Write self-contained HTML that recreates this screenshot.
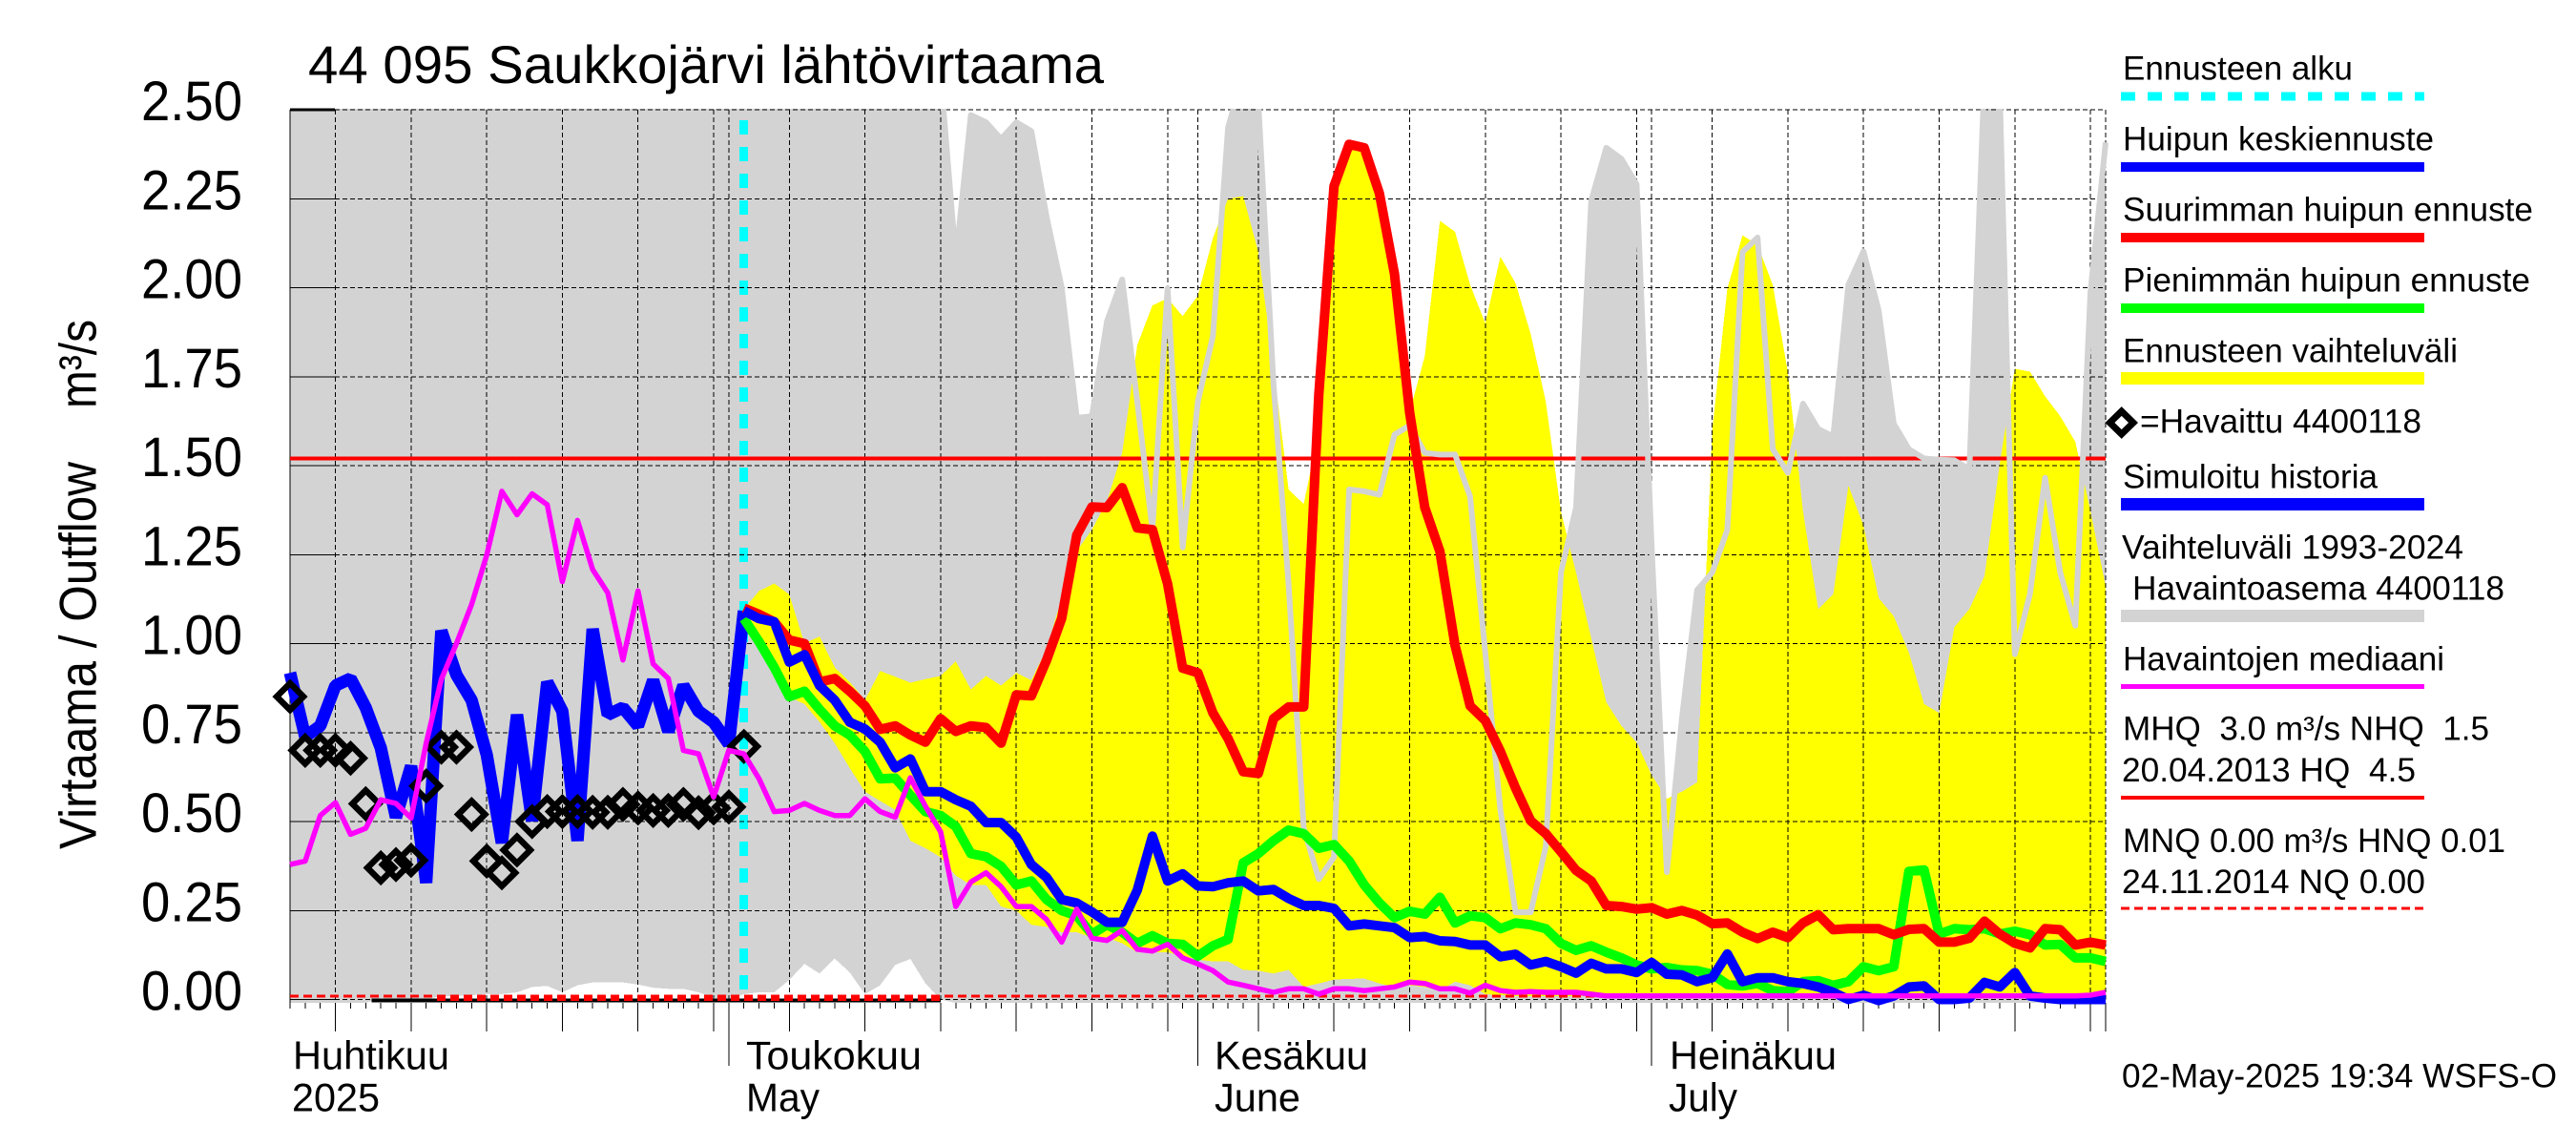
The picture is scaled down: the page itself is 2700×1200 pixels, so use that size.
<!DOCTYPE html>
<html lang="fi">
<head>
<meta charset="utf-8">
<title>44 095 Saukkojärvi lähtövirtaama</title>
<style>
html,body{margin:0;padding:0;background:#fff;}
svg{display:block;}
text{font-family:"Liberation Sans",sans-serif;fill:#000;white-space:pre;}
.lg{font-size:35px;}
.tk{font-size:58px;}
.mo{font-size:42px;}
</style>
</head>
<body>
<svg id="chart" xmlns="http://www.w3.org/2000/svg" width="2700" height="1200" viewBox="0 0 2700 1200">
<defs><clipPath id="plot-clip"><rect x="300" y="114" width="1912" height="940"/></clipPath></defs>
<rect x="0" y="0" width="2700" height="1200" fill="#fff"/>
<text x="323" y="87" font-size="56" textLength="834" lengthAdjust="spacingAndGlyphs">44 095 Saukkojärvi lähtövirtaama</text>
<text transform="translate(100.5,890) rotate(-90)" font-size="55" textLength="406" lengthAdjust="spacingAndGlyphs">Virtaama / Outflow</text>
<text transform="translate(100.5,428) rotate(-90)" font-size="55" textLength="93" lengthAdjust="spacingAndGlyphs">m³/s</text>
<g id="bands" clip-path="url(#plot-clip)"></g>
<g id="axes"></g>
<g id="upperEdge" clip-path="url(#plot-clip)"></g>
<g id="series"></g>
<g id="labels"></g>

<g>
<text class="lg" x="2225" y="83.4" textLength="241" lengthAdjust="spacingAndGlyphs">Ennusteen alku</text>
<line x1="2223" x2="2541" y1="101" y2="101" stroke="#00ffff" stroke-width="9" stroke-dasharray="15 13" shape-rendering="crispEdges"/>
<text class="lg" x="2225" y="157.7" textLength="326" lengthAdjust="spacingAndGlyphs">Huipun keskiennuste</text>
<rect x="2223" y="170" width="318" height="10" fill="#0000ff"/>
<text class="lg" x="2225" y="231.5" textLength="430" lengthAdjust="spacingAndGlyphs">Suurimman huipun ennuste</text>
<rect x="2223" y="244" width="318" height="10" fill="#ff0000"/>
<text class="lg" x="2225" y="305.4" textLength="427" lengthAdjust="spacingAndGlyphs">Pienimmän huipun ennuste</text>
<rect x="2223" y="318" width="318" height="10" fill="#00ff00"/>
<text class="lg" x="2225" y="379.6" textLength="351" lengthAdjust="spacingAndGlyphs">Ennusteen vaihteluväli</text>
<rect x="2223" y="390" width="318" height="13" fill="#ffff00"/>
<polygon points="2223.7,431 2236,443 2223.7,455 2211.4,443" fill="#fff" stroke="#000" stroke-width="7"/>
<text class="lg" x="2243" y="453.5" textLength="295" lengthAdjust="spacingAndGlyphs">=Havaittu 4400118</text>
<text class="lg" x="2225" y="511.7" textLength="267" lengthAdjust="spacingAndGlyphs">Simuloitu historia</text>
<rect x="2223" y="522" width="318" height="13" fill="#0000ff"/>
<text class="lg" x="2224" y="585.5" textLength="358" lengthAdjust="spacingAndGlyphs">Vaihteluväli 1993-2024</text>
<text class="lg" x="2235" y="628.7" textLength="390" lengthAdjust="spacingAndGlyphs">Havaintoasema 4400118</text>
<rect x="2223" y="639" width="318" height="13" fill="#d3d3d3"/>
<text class="lg" x="2225" y="702.6" textLength="337" lengthAdjust="spacingAndGlyphs">Havaintojen mediaani</text>
<rect x="2223" y="717" width="318" height="5" fill="#ff00ff"/>
<text class="lg" x="2225" y="775.3" textLength="384" lengthAdjust="spacingAndGlyphs">MHQ  3.0 m³/s NHQ  1.5</text>
<text class="lg" x="2224" y="819" textLength="308" lengthAdjust="spacingAndGlyphs">20.04.2013 HQ  4.5</text>
<rect x="2223" y="834" width="318" height="4" fill="#ff0000"/>
<text class="lg" x="2225" y="892.8" textLength="401" lengthAdjust="spacingAndGlyphs">MNQ 0.00 m³/s HNQ 0.01</text>
<text class="lg" x="2224" y="936" textLength="318" lengthAdjust="spacingAndGlyphs">24.11.2014 NQ 0.00</text>
<line x1="2223" x2="2541" y1="952" y2="952" stroke="#ff0000" stroke-width="3" stroke-dasharray="9 5" shape-rendering="crispEdges"/>
<text class="lg" x="2224" y="1139.6" textLength="456" lengthAdjust="spacingAndGlyphs">02-May-2025 19:34 WSFS-O</text>
</g>
</svg>

<script>
// Chart values in m³/s, one per day. Day 0 is 2 April 2025.
const yTicks = [0, 0.25, 0.5, 0.75, 1, 1.25, 1.5, 1.75, 2, 2.25, 2.5];
const yTickLabels = ["0.00", "0.25", "0.50", "0.75", "1.00", "1.25", "1.50", "1.75", "2.00", "2.25", "2.50"];
const dayCount = 121;
const gridDays = [3, 8, 13, 18, 23, 28, 29, 33, 38, 43, 48, 53, 58, 60, 64, 69, 74, 79, 84, 89, 90, 94, 99, 104, 109, 114, 119, 120];
const monthDays = [29, 60, 90];
const monthNames = ["Huhtikuu", "Toukokuu", "Kesäkuu", "Heinäkuu"];
const monthNamesEn = ["2025", "May", "June", "July"];
const mhqValue = 1.52;
const nqValue = 0.01;
const forecastStartDay = 30;

const historyUpper = [
2.6,2.6,2.6,2.6,2.6,2.6,2.6,2.6,2.6,2.6,
2.6,2.6,2.6,2.6,2.6,2.6,2.6,2.6,2.6,2.6,
2.6,2.6,2.6,2.6,2.6,2.6,2.6,2.6,2.6,2.6,
2.6,2.6,2.6,2.6,2.6,2.6,2.6,2.6,2.6,2.6,
2.6,2.6,2.6,2.6,2.08,2.485,2.465,2.418,2.465,2.44,
2.2,2.0,1.634,1.639,1.906,2.023,1.68,1.32,1.998,1.27,
1.68,1.864,2.45,2.6,2.52,1.73,1.167,0.481,0.338,0.40,
1.433,1.428,1.418,1.587,1.613,1.536,1.531,1.531,1.413,0.974,
0.533,0.245,0.245,0.43,1.2,1.382,2.244,2.393,2.362,2.29,
1.27,0.358,0.79,1.15,1.2,1.32,2.10,2.141,1.546,1.48,
1.674,1.603,1.582,2.008,2.102,1.936,1.618,1.546,1.52,1.517,
1.515,1.49,2.6,2.55,0.97,1.14,1.466,1.2,1.05,1.987,2.408];

const historyLower = [
-0.01,-0.01,-0.01,-0.01,-0.01,-0.01,0.004,0,0,0,
0.01,0.01,0.012,0.015,0.015,0.02,0.035,0.038,0.02,0.04,
0.048,0.048,0.048,0.042,0.033,0.03,0.03,0.02,0.004,0,
0.015,0.02,0.02,0.055,0.10,0.073,0.115,0.076,0.015,0.04,
0.097,0.114,0.045,0,-0.01,-0.01,-0.01,-0.01,-0.01,-0.01,
-0.01,-0.01,-0.01,-0.01,-0.01,-0.01,-0.01,-0.01,-0.01,-0.01,
-0.01,-0.01,-0.01,-0.01,-0.01,-0.01,-0.01,-0.01,-0.01,-0.01,
-0.01,-0.01,-0.01,-0.01,-0.01,-0.01,-0.01,-0.01,-0.01,-0.01,
-0.01,-0.01,-0.01,-0.01,-0.01,-0.01,-0.01,-0.01,-0.01,-0.01,
-0.01,-0.01,-0.01,-0.01,-0.01,-0.01,-0.01,-0.01,-0.01,-0.01,
-0.01,-0.01,-0.01,-0.01,-0.01,-0.01,-0.01,-0.01,-0.01,-0.01,
-0.01,-0.01,-0.01,-0.01,-0.01,-0.01,-0.01,-0.01,-0.01,-0.01,-0.01];

const rangeTop = [
1.097,1.148,1.169,1.138,1.0,1.02,0.933,0.892,0.841,0.923,
0.907,0.89,0.90,0.909,0.95,0.871,0.909,0.882,0.918,0.897,
0.984,1.128,1.26,1.32,1.40,1.536,1.839,1.95,1.97,1.92,
1.977,2.14,2.25,2.257,2.10,1.78,1.433,1.392,1.6,2.285,
2.403,2.393,2.265,2.039,1.65,1.808,2.188,2.157,2.008,1.90,
2.087,2.013,1.87,1.68,1.37,1.2,1.015,0.835,0.769,0.722,
0.63,0.564,0.584,0.61,1.6,1.998,2.147,2.12,2.008,1.762,
1.372,1.097,1.138,1.444,1.331,1.128,1.077,0.974,0.83,0.805,
1.046,1.097,1.19,1.505,1.772,1.764,1.695,1.639,1.567,1.372,1.16];

const rangeBottom = [
1.09,1.0,0.93,0.85,0.83,0.78,0.72,0.65,0.584,0.558,
0.533,0.446,0.425,0.40,0.348,0.322,0.322,0.261,0.25,0.21,
0.204,0.189,0.189,0.174,0.174,0.158,0.133,0.133,0.133,0.122,
0.112,0.107,0.107,0.083,0.081,0.073,0.083,0.035,0.045,0.056,
0.058,0.059,0.045,0.035,0.04,0.035,0.025,0.05,0.04,0.015,
0.012,0.01,0.01,0.01,0.01,0.01,0.01,0.01,0.01,0.01,
0.01,0.01,0.01,0.01,0.01,0.01,0.01,0.01,0.01,0.01,
0.01,0.01,0.01,0.01,0.01,0.01,0.01,0.01,0.01,0.01,
0.01,0.01,0.01,0.01,0.01,0.01,0.01,0.01,0.01,0.01,0.01];

const simulatedHistory = [
0.918,0.738,0.769,0.882,0.902,0.82,0.707,0.512,0.656,0.328,
1.036,0.912,0.841,0.687,0.44,0.80,0.502,0.892,0.81,0.446,
1.041,0.80,0.82,0.769,0.897,0.753,0.882,0.81,0.779,0.718,1.092];

const observed = [
0.851,0.70,0.70,0.70,0.678,0.55,0.37,0.379,0.391,0.60,
0.709,0.709,0.52,0.389,0.356,0.42,0.50,0.528,0.528,0.528,
0.526,0.526,0.548,0.538,0.531,0.531,0.548,0.525,0.538,0.541,0.711];

const medianFlow = [
0.379,0.389,0.517,0.553,0.464,0.481,0.561,0.551,0.51,0.72,
0.90,1.0,1.11,1.249,1.428,1.362,1.421,1.39,1.174,1.346,
1.208,1.143,0.954,1.148,0.943,0.902,0.70,0.69,0.569,0.70,
0.69,0.62,0.528,0.531,0.551,0.531,0.517,0.517,0.564,0.528,
0.512,0.623,0.543,0.471,0.261,0.33,0.356,0.317,0.261,0.261,
0.225,0.161,0.254,0.172,0.166,0.194,0.141,0.136,0.155,0.117,
0.10,0.081,0.049,0.04,0.03,0.02,0.03,0.03,0.015,0.03,
0.03,0.025,0.03,0.035,0.049,0.045,0.03,0.03,0.018,0.04,
0.025,0.02,0.022,0.02,0.02,0.02,0.015,0.01,0.01,0.01,
0.01,0.01,0.01,0.01,0.01,0.01,0.01,0.01,0.01,0.01,
0.01,0.01,0.01,0.01,0.01,0.01,0.01,0.01,0.01,0.01,
0.01,0.01,0.01,0.01,0.01,0.01,0.01,0.01,0.01,0.012,0.02];

const maxPeakForecast = [
1.10,1.082,1.061,1.01,1.0,0.892,0.902,0.866,0.825,0.759,
0.769,0.743,0.723,0.789,0.753,0.769,0.764,0.72,0.856,0.853,
0.953,1.071,1.305,1.384,1.382,1.438,1.325,1.32,1.168,0.931,
0.918,0.805,0.733,0.64,0.635,0.789,0.822,0.822,1.70,2.285,
2.403,2.393,2.265,2.039,1.649,1.382,1.259,0.995,0.825,0.784,
0.697,0.594,0.502,0.466,0.415,0.363,0.333,0.264,0.261,0.254,
0.258,0.24,0.25,0.237,0.213,0.215,0.189,0.171,0.189,0.174,
0.215,0.238,0.196,0.199,0.199,0.199,0.182,0.197,0.199,0.161,
0.161,0.172,0.22,0.184,0.158,0.145,0.199,0.196,0.153,0.161,0.153];

const minPeakForecast = [
1.07,1.005,0.933,0.851,0.866,0.815,0.769,0.743,0.697,0.62,
0.622,0.574,0.528,0.517,0.486,0.41,0.401,0.374,0.322,0.333,
0.281,0.25,0.235,0.184,0.21,0.189,0.158,0.179,0.158,0.155,
0.122,0.151,0.169,0.384,0.41,0.446,0.476,0.466,0.425,0.435,
0.389,0.322,0.271,0.23,0.248,0.24,0.287,0.215,0.235,0.23,
0.199,0.215,0.21,0.199,0.158,0.138,0.151,0.133,0.117,0.097,
0.086,0.09,0.083,0.081,0.071,0.042,0.038,0.045,0.025,0.022,
0.05,0.053,0.04,0.05,0.092,0.081,0.092,0.36,0.364,0.184,
0.199,0.196,0.199,0.184,0.192,0.182,0.153,0.155,0.117,0.117,0.107];

const meanPeakForecast = [
1.092,1.07,1.061,0.948,0.969,0.882,0.841,0.779,0.76,0.723,
0.651,0.676,0.584,0.584,0.561,0.543,0.497,0.497,0.456,0.379,
0.343,0.281,0.271,0.246,0.217,0.217,0.307,0.459,0.333,0.353,
0.319,0.317,0.328,0.333,0.305,0.309,0.284,0.264,0.264,0.256,
0.207,0.212,0.207,0.202,0.174,0.177,0.165,0.163,0.153,0.153,
0.12,0.127,0.097,0.107,0.092,0.074,0.102,0.086,0.086,0.076,
0.104,0.071,0.069,0.05,0.061,0.128,0.05,0.061,0.061,0.05,
0.045,0.035,0.02,0,0.012,-0.003,0.01,0.035,0.038,0,
0,0.004,0.048,0.035,0.076,0.01,0.004,0,0,0,0];

const xScale = d => 304 + 15.858 * d;
const yScale = v => 1047.5 - 373 * v;
const NS = "http://www.w3.org/2000/svg";

function make(parent, tag, attrs) {
  const el = document.createElementNS(NS, tag);
  for (const key in attrs) el.setAttribute(key, attrs[key]);
  parent.appendChild(el);
  return el;
}
function linePoints(values, startDay) {
  return values.map((v, i) => xScale(startDay + i).toFixed(1) + "," + yScale(v).toFixed(1)).join(" ");
}
function bandPoints(top, bottom, startDay) {
  const upper = top.map((v, i) => xScale(startDay + i).toFixed(1) + "," + yScale(v).toFixed(1));
  const lower = bottom.map((v, i) => xScale(startDay + i).toFixed(1) + "," + yScale(v).toFixed(1)).reverse();
  return upper.concat(lower).join(" ");
}

const bands = document.getElementById("bands");
const axes = document.getElementById("axes");
const upperEdge = document.getElementById("upperEdge");
const seriesLayer = document.getElementById("series");
const labels = document.getElementById("labels");

// Filled ranges
const grayBand = make(bands, "polygon", {points: bandPoints(historyUpper, historyLower, 0), fill: "#d3d3d3", "shape-rendering": "crispEdges"});


const yellowBand = make(bands, "polygon", {points: bandPoints(rangeTop, rangeBottom, forecastStartDay), fill: "#ffff00", "shape-rendering": "crispEdges"});



// Forecast start marker
const startLine = make(axes, "line", {x1: xScale(forecastStartDay), x2: xScale(forecastStartDay), y1: yScale(2.47), y2: yScale(0), stroke: "#00ffff", "stroke-width": 9, "stroke-dasharray": "15 13", "shape-rendering": "crispEdges"});



// Horizontal grid and ticks
yTicks.forEach((tick, i) => {
  const y = yScale(tick);
  const grid = make(axes, "line", {x1: xScale(0) + 47, x2: xScale(dayCount - 1), y1: y, y2: y, stroke: "#000", "stroke-width": 1, "stroke-dasharray": "5 3", "shape-rendering": "crispEdges"});
  
  
  const mark = make(axes, "line", {x1: xScale(0), x2: xScale(0) + 47, y1: y, y2: y, stroke: "#000", "stroke-width": i === yTicks.length - 1 ? 3 : 1, "shape-rendering": "crispEdges"});
  
  
  const label = make(labels, "text", {x: 148, y: y + 11, class: "tk", textLength: 106, lengthAdjust: "spacingAndGlyphs"});
  label.textContent = yTickLabels[i];
  
  
});

// Vertical grid
gridDays.forEach(d => {
  const grid = make(axes, "line", {x1: xScale(d), x2: xScale(d), y1: yScale(2.5), y2: yScale(0), stroke: "#000", "stroke-width": 1, "stroke-dasharray": "5 3", "shape-rendering": "crispEdges"});
  
  
});

// Left axis
const leftAxis = make(axes, "line", {x1: xScale(0), x2: xScale(0), y1: yScale(2.5), y2: 1051, stroke: "#000", "stroke-width": 1, "shape-rendering": "crispEdges"});



// Day, five-day and month ticks
for (let d = 0; d < dayCount; d++) {
  const isMonth = monthDays.includes(d);
  const isGrid = gridDays.includes(d);
  const bottom = isMonth ? 1117 : (isGrid ? 1081 : 1057);
  const tick = make(axes, "line", {x1: xScale(d), x2: xScale(d), y1: 1051, y2: bottom, stroke: "#000", "stroke-width": 1, "shape-rendering": "crispEdges"});
  
  
}

// Reference levels
const mhqLine = make(axes, "line", {x1: xScale(0), x2: xScale(dayCount - 1), y1: yScale(mhqValue), y2: yScale(mhqValue), stroke: "#ff0000", "stroke-width": 4, "shape-rendering": "crispEdges"});


const zeroLine = make(axes, "line", {x1: xScale(5.4), x2: xScale(43), y1: yScale(0) + 1, y2: yScale(0) + 1, stroke: "#000", "stroke-width": 4, "shape-rendering": "crispEdges"});


const nqLine = make(axes, "line", {x1: xScale(0), x2: xScale(dayCount - 1), y1: yScale(nqValue), y2: yScale(nqValue), stroke: "#ff0000", "stroke-width": 3, "stroke-dasharray": "9 5", "shape-rendering": "crispEdges"});


const nqThick = make(axes, "line", {x1: xScale(9.7), x2: xScale(43), y1: yScale(nqValue) + 2, y2: yScale(nqValue) + 2, stroke: "#ff0000", "stroke-width": 6, "stroke-dasharray": "9 5", "shape-rendering": "crispEdges"});



// Upper edge of the historical range
const upperLine = make(upperEdge, "polyline", {points: linePoints(historyUpper, 0), fill: "none", stroke: "#d3d3d3", "stroke-width": 6, "stroke-linejoin": "round"});



// Series
const simLine = make(seriesLayer, "polyline", {points: linePoints(simulatedHistory, 0), fill: "none", stroke: "#0000ff", "stroke-width": 13, "stroke-linejoin": "bevel"});


const minLine = make(seriesLayer, "polyline", {points: linePoints(minPeakForecast, forecastStartDay), fill: "none", stroke: "#00ff00", "stroke-width": 10, "stroke-linejoin": "round"});


const maxLine = make(seriesLayer, "polyline", {points: linePoints(maxPeakForecast, forecastStartDay), fill: "none", stroke: "#ff0000", "stroke-width": 10, "stroke-linejoin": "round"});


const meanLine = make(seriesLayer, "polyline", {points: linePoints(meanPeakForecast, forecastStartDay), fill: "none", stroke: "#0000ff", "stroke-width": 10, "stroke-linejoin": "round"});



observed.forEach((v, d) => {
  const cx = xScale(d), cy = yScale(v), r = 14;
  const marker = make(seriesLayer, "polygon", {points: [cx + "," + (cy - r), (cx + r) + "," + cy, cx + "," + (cy + r), (cx - r) + "," + cy].join(" "), fill: "none", stroke: "#000", "stroke-width": 6.5});
  
  
});

const medianLine = make(seriesLayer, "polyline", {points: linePoints(medianFlow, 0), fill: "none", stroke: "#ff00ff", "stroke-width": 5.5, "stroke-linejoin": "round"});



// Month labels
const monthX = [307, 782, 1273, 1750];
const monthW = [164, 184, 161, 175];
const monthEnX = [306, 782, 1273, 1749];
const monthEnW = [92, 77, 90, 72];
monthNames.forEach((name, i) => {
  const fi = make(labels, "text", {x: monthX[i], y: 1120.5, class: "mo", textLength: monthW[i], lengthAdjust: "spacingAndGlyphs"});
  fi.textContent = name;
  
  
  const en = make(labels, "text", {x: monthEnX[i], y: 1164.5, class: "mo", textLength: monthEnW[i], lengthAdjust: "spacingAndGlyphs"});
  en.textContent = monthNamesEn[i];
  
  
});
</script>
</body>
</html>
